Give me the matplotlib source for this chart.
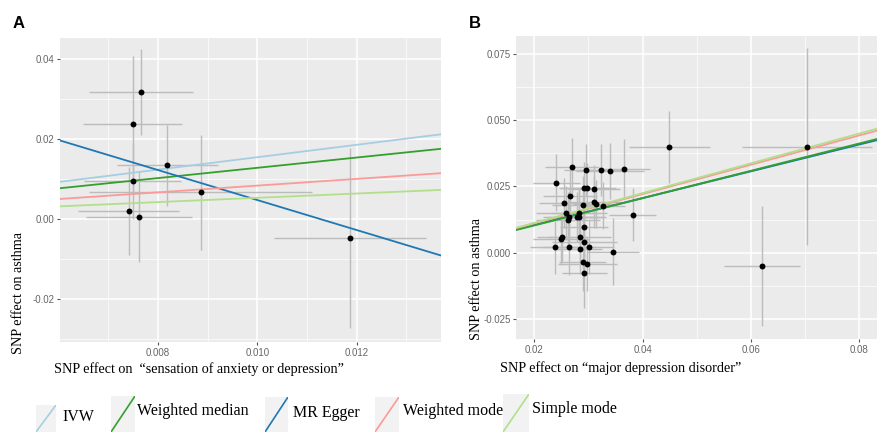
import numpy as np
import matplotlib
matplotlib.use('Agg')
import matplotlib.pyplot as plt
from matplotlib.ticker import MultipleLocator

# panel A: sensation of anxiety or depression -> asthma
a_x = [0.00766, 0.00749, 0.00819, 0.00749, 0.00886, 0.00741, 0.00762, 0.01186]
a_y = [0.03175, 0.02375, 0.0135, 0.00965, 0.00675, 0.0021, 0.0005, -0.00475]
a_sx = [0.00104, 0.00099, 0.00102, 0.00098, 0.00224, 0.00102, 0.00107, 0.00153]
a_sy = [0.0108, 0.0170, 0.0101, 0.0095, 0.0144, 0.0110, 0.0113, 0.0225]

# panel B: major depression disorder -> asthma
b_x = [0.04495, 0.07034, 0.0620, 0.03818, 0.03448, 0.03664, 0.03399, 0.03232,
       0.02949, 0.02702, 0.02407, 0.02918, 0.0298, 0.03103, 0.02653, 0.02555,
       0.02906, 0.03097, 0.0314, 0.0327, 0.02585, 0.02647, 0.02622, 0.02782,
       0.02832, 0.0282, 0.02918, 0.02838, 0.02505, 0.02487, 0.02376, 0.02647,
       0.02838, 0.03004, 0.02924, 0.02893, 0.0298, 0.02924]
b_y = [0.0399, 0.0399, -0.00504, 0.01435, 0.0003, 0.0316, 0.0308, 0.0312,
       0.0312, 0.0324, 0.0264, 0.0243, 0.0243, 0.0240, 0.0215, 0.01876,
       0.0180, 0.0191, 0.0184, 0.0177, 0.01485, 0.0136, 0.0123, 0.01347,
       0.0136, 0.01485, 0.0098, 0.0060, 0.0058, 0.0053, 0.0020, 0.0021,
       0.0014, 0.0020, 0.0039, -0.00365, -0.0044, -0.0078]
b_sx = [0.0075, 0.0120, 0.0070, 0.0043, 0.0048, 0.0048, 0.0062, 0.0045,
        0.0040, 0.0050, 0.0044, 0.0045, 0.0052, 0.0048, 0.0050, 0.0047,
        0.0058, 0.0050, 0.0042, 0.0040, 0.0055, 0.0049, 0.0060, 0.0054,
        0.0046, 0.0052, 0.0044, 0.0058, 0.0046, 0.0052, 0.0045, 0.0050,
        0.0042, 0.0047, 0.0060, 0.0043, 0.0055, 0.0041]
b_sy = [0.0136, 0.0372, 0.0225, 0.0100, 0.0127, 0.0112, 0.0105, 0.0100,
        0.0099, 0.0108, 0.0107, 0.0100, 0.0095, 0.0090, 0.0100, 0.0095,
        0.0110, 0.0098, 0.0092, 0.0088, 0.0102, 0.0096, 0.0105, 0.0094,
        0.0100, 0.0097, 0.0112, 0.0095, 0.0092, 0.0098, 0.0100, 0.0104,
        0.0096, 0.0102, 0.0108, 0.0110, 0.0100, 0.0130]

methods = ['IVW', 'Weighted median', 'MR Egger', 'Weighted mode', 'Simple mode']
colors = ['#a6cee3', '#33a02c', '#1f78b4', '#fb9a99', '#b2df8a']
# (intercept, slope) per method
a_fit = [(0.0, 1.55), (0.0, 1.285), (0.0423, -3.75), (0.0, 0.84), (0.0, 0.535)]
b_fit = [(0.0, 0.512), (0.0, 0.515), (0.0004, 0.505), (0.0, 0.553), (0.0, 0.562)]
b_order = [0, 2, 1, 3, 4]

serif = ['Liberation Serif', 'DejaVu Serif']
sans = ['Liberation Sans', 'DejaVu Sans']

fig = plt.figure(figsize=(8.77, 4.32), dpi=100)


def panel(ax, x, y, sx, sy, fits, order, xlim, ylim, xmaj, ymaj):
    ax.set_facecolor('#ebebeb')
    ax.errorbar(x, y, xerr=sx, yerr=sy, fmt='none', ecolor='#bcbcbc',
                elinewidth=1.0, capsize=0, zorder=2)
    for i in order:
        b0, b1 = fits[i]
        ax.axline((0, b0), slope=b1, color=colors[i], lw=1.3, zorder=3)
    ax.scatter(x, y, s=18, color='black', zorder=4, linewidths=0)
    ax.set_xlim(xlim)
    ax.set_ylim(ylim)
    ax.xaxis.set_major_locator(MultipleLocator(xmaj))
    ax.yaxis.set_major_locator(MultipleLocator(ymaj))
    ax.xaxis.set_minor_locator(MultipleLocator(xmaj / 2))
    ax.yaxis.set_minor_locator(MultipleLocator(ymaj / 2))
    ax.grid(which='major', color='white', lw=1.1)
    ax.grid(which='minor', color='white', lw=0.5)
    ax.set_axisbelow(True)
    for s in ax.spines.values():
        s.set_visible(False)
    ax.tick_params(which='major', length=2.5, width=0.8, color='#555555',
                   labelsize=7, labelcolor='#666666', pad=1.5)
    ax.tick_params(which='minor', length=0)
    for lab in ax.get_xticklabels() + ax.get_yticklabels():
        lab.set_family(sans)


axA = fig.add_axes([0.0684, 0.2083, 0.4345, 0.7037])
panel(axA, a_x, a_y, a_sx, a_sy, a_fit, range(5),
      (0.00603, 0.0137), (-0.0307, 0.0453), 0.002, 0.02)
axA.xaxis.set_major_formatter(matplotlib.ticker.FormatStrFormatter('%.3f'))
axA.yaxis.set_major_formatter(matplotlib.ticker.FormatStrFormatter('%.2f'))

axB = fig.add_axes([0.5884, 0.2153, 0.4116, 0.7014])
panel(axB, b_x, b_y, b_sx, b_sy, b_fit, b_order,
      (0.01662, 0.0833), (-0.0326, 0.0818), 0.02, 0.025)
axB.xaxis.set_major_formatter(matplotlib.ticker.FormatStrFormatter('%.2f'))
axB.yaxis.set_major_formatter(matplotlib.ticker.FormatStrFormatter('%.3f'))

fig.text(0.0145, 0.962, 'A', fontsize=12, fontweight='bold', family=sans,
         va='top')
fig.text(0.535, 0.962, 'B', fontsize=12, fontweight='bold', family=sans,
         va='top')

fig.text(0.021, 0.3229, 'SNP effect on asthma', rotation=90, fontsize=10.2,
         family=serif, ha='center', va='center')
fig.text(0.5435, 0.3553, 'SNP effect on asthma', rotation=90, fontsize=10.2,
         family=serif, ha='center', va='center')
fig.text(0.2268, 0.1458, 'SNP effect on  \u201csensation of anxiety or depression\u201d',
         fontsize=10.2, family=serif, ha='center', va='center')
fig.text(0.7077, 0.1475, 'SNP effect on \u201cmajor depression disorder\u201d',
         fontsize=10.2, family=serif, ha='center', va='center')

# legend keys: box left, box right, box top (px), label x, label y (px)
key_pos = [(36, 56, 405, 62, 417), (111, 135, 396, 137, 411),
           (265, 288, 397, 293, 413), (375, 399, 397, 403, 411),
           (503, 529, 394, 532, 409)]
W, H = 877, 432
for i, (l, r, t, tx, ty) in enumerate(key_pos):
    kax = fig.add_axes([l / W, 0, (r - l) / W, 1 - t / H])
    kax.set_facecolor('#f2f2f2')
    kax.plot([0, 1], [0, 1], color=colors[i], lw=1.2, transform=kax.transAxes)
    kax.set_xlim(0, 1)
    kax.set_ylim(0, 1)
    kax.set_xticks([])
    kax.set_yticks([])
    for s in kax.spines.values():
        s.set_visible(False)
    fig.text(tx / W, 1 - ty / H, methods[i], fontsize=11.5, family=serif,
             ha='left', va='center')

fig.savefig('out.png', dpi=100)
